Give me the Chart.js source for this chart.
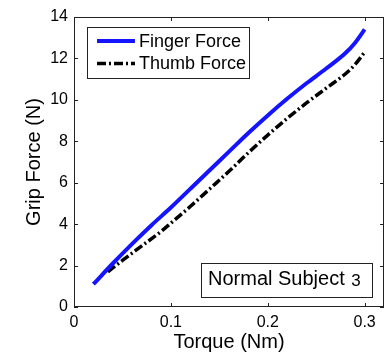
<!DOCTYPE html>
<html>
<head>
<meta charset="utf-8">
<script src="https://cdn.jsdelivr.net/npm/chart.js@4/dist/chart.umd.min.js"></script>
<style>
html,body{margin:0;padding:0;background:#fff;}
#wrap{position:relative;width:391px;height:354px;}
</style>
</head>
<body>
<div id="wrap"><canvas id="c" width="391" height="354"></canvas></div>
<script>
// ---- data ----
const torqueFinger = [0.02,0.04,0.06,0.08,0.10,0.12,0.14,0.16,0.18,0.20,0.22,0.24,0.26,0.28,0.29,0.30];
const fingerForce  = [1.1,2.1,3.05,3.95,4.8,5.7,6.6,7.5,8.4,9.25,10.05,10.8,11.5,12.25,12.75,13.4];
const torqueThumb  = [0.035,0.05,0.07,0.09,0.10,0.12,0.14,0.16,0.18,0.20,0.22,0.24,0.26,0.28,0.29,0.30];
const thumbForce   = [1.7,2.25,2.95,3.65,4.05,4.85,5.7,6.55,7.45,8.3,9.1,9.85,10.55,11.25,11.7,12.3];
const xTicks = [0, 0.1, 0.2, 0.3];
const xTickLabels = ['0','0.1','0.2','0.3'];
const yTicks = [0,2,4,6,8,10,12,14];
const yTickLabels = ['0','2','4','6','8','10','12','14'];
const seriesNames = ['Finger Force','Thumb Force'];
const xTitle = 'Torque (Nm)';
const yTitle = 'Grip Force (N)';
const noteMain = 'Normal Subject ';
const noteSub = '3';

const FONT = "'Liberation Sans', Arial, sans-serif";

function pts(xs, ys){ return xs.map((x,i)=>({x:x,y:ys[i]})); }

const framePlugin = {
  id:'frame',
  afterDatasetsDraw(chart){
    const {ctx, chartArea:a, scales} = chart;
    ctx.save();
    ctx.strokeStyle = '#222';
    ctx.lineWidth = 1;
    ctx.strokeRect(a.left+0.5, a.top+0.5, a.right-a.left-1, a.bottom-a.top-1);
    const tl = 4;
    ctx.beginPath();
    xTicks.forEach(v=>{
      const px = Math.round(scales.x.getPixelForValue(v))+0.5;
      ctx.moveTo(px, a.bottom); ctx.lineTo(px, a.bottom-tl);
      ctx.moveTo(px, a.top); ctx.lineTo(px, a.top+tl);
    });
    yTicks.forEach(v=>{
      const py = Math.round(scales.y.getPixelForValue(v))+0.5;
      ctx.moveTo(a.left, py); ctx.lineTo(a.left+tl, py);
      ctx.moveTo(a.right, py); ctx.lineTo(a.right-tl, py);
    });
    ctx.stroke();

    // legend box
    const lx = a.left+13, ly = a.top+10, lw = 162, lh = 51;
    ctx.fillStyle = '#fff';
    ctx.fillRect(lx, ly, lw, lh);
    ctx.strokeStyle = '#222';
    ctx.lineWidth = 1;
    ctx.strokeRect(lx+0.5, ly+0.5, lw, lh);
    chart.data.datasets.forEach((ds,i)=>{
      const yy = ly + 14 + i*22.5;
      ctx.save();
      ctx.strokeStyle = ds.borderColor;
      ctx.lineWidth = ds.borderWidth;
      ctx.setLineDash(ds.borderDash || []);
      ctx.beginPath();
      ctx.moveTo(lx+10, yy); ctx.lineTo(lx+48, yy);
      ctx.stroke();
      ctx.restore();
      ctx.fillStyle = '#000';
      ctx.font = '18px '+FONT;
      ctx.textBaseline = 'middle';
      ctx.textAlign = 'left';
      ctx.fillText(ds.label, lx+52, yy+1);
    });

    // annotation box
    const bx = a.left+127, by = a.top+246, bw = 171, bh = 34;
    ctx.fillStyle = '#fff';
    ctx.fillRect(bx, by, bw, bh);
    ctx.strokeStyle = '#222';
    ctx.strokeRect(bx+0.5, by+0.5, bw, bh);
    ctx.fillStyle = '#000';
    ctx.textBaseline = 'alphabetic';
    ctx.textAlign = 'left';
    ctx.font = '20px '+FONT;
    ctx.fillText(noteMain, bx+7, by+21.5);
    const w = ctx.measureText(noteMain).width;
    ctx.font = '17px '+FONT;
    ctx.fillText(noteSub, bx+7+w+1, by+22.5);
    ctx.restore();
  }
};

new Chart(document.getElementById('c'), {
  type:'scatter',
  data:{
    datasets:[
      {label:seriesNames[0], data:pts(torqueFinger,fingerForce), showLine:true,
       borderColor:'#1414ff', backgroundColor:'#1414ff', borderWidth:4, pointRadius:0,
       cubicInterpolationMode:'monotone', borderCapStyle:'butt'},
      {label:seriesNames[1], data:pts(torqueThumb,thumbForce), showLine:true,
       borderColor:'#000', backgroundColor:'#000', borderWidth:3.5, pointRadius:0,
       borderDash:[9,3,2,3], cubicInterpolationMode:'monotone', borderCapStyle:'butt'}
    ]
  },
  options:{
    responsive:false,
    animation:false,
    layout:{padding:{top:17,right:7,left:0,bottom:0}},
    plugins:{legend:{display:false}, tooltip:{enabled:false}},
    scales:{
      x:{
        type:'linear', min:0, max:0.32,
        grid:{display:false, drawTicks:false},
        border:{display:false},
        afterBuildTicks(s){ s.ticks = xTicks.map(v=>({value:v})); },
        afterFit(s){ s.height = 47; },
        ticks:{color:'#000', font:{family:FONT,size:16}, padding:6, maxRotation:0,
          callback:(v)=>{const i=xTicks.indexOf(v); return i>=0?xTickLabels[i]:'';}},
        title:{display:true, text:xTitle, color:'#000', font:{family:FONT,size:20}, padding:{top:0,bottom:0}}
      },
      y:{
        type:'linear', min:0, max:14,
        grid:{display:false, drawTicks:false},
        border:{display:false},
        afterBuildTicks(s){ s.ticks = yTicks.map(v=>({value:v})); },
        afterFit(s){ s.width = 74; },
        ticks:{color:'#000', font:{family:FONT,size:16}, padding:6,
          callback:(v)=>{const i=yTicks.indexOf(v); return i>=0?yTickLabels[i]:'';}},
        title:{display:true, text:yTitle, color:'#000', font:{family:FONT,size:20}, padding:{top:22,bottom:0}}
      }
    }
  },
  plugins:[framePlugin]
});
</script>
</body>
</html>
